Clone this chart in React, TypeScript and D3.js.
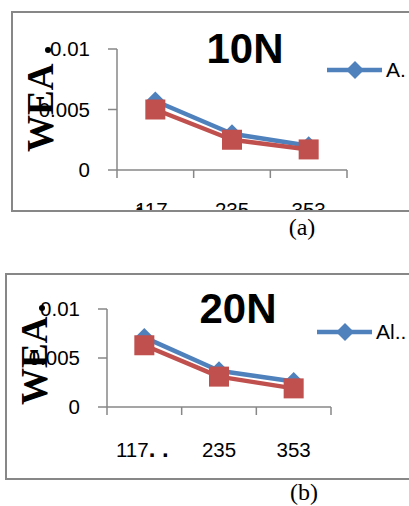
import React from "react";
import * as d3 from "d3";

const categories = ["117", "235", "353"];
const blue10N = [0.0057, 0.003, 0.002];
const red10N = [0.005, 0.0025, 0.0017];
const blue20N = [0.0071, 0.0037, 0.0026];
const red20N = [0.0063, 0.0031, 0.0019];
const yTicks = [0, 0.005, 0.01];
const yTickLabels = ["0", "0.005", "0.01"];
const titles = ["10N", "20N"];
const legendLabels = ["A.", "Al.."];
const captions = ["(a)", "(b)"];
const yTitle = "WEA";

const BLUE = "#4F81BD";
const RED = "#C0504D";
const GRAY = "#878787";

type PanelProps = {
  id: string;
  blue: number[];
  red: number[];
  title: string;
  legend: string;
  caption: string;
  box: { x: number; y: number; bottom: number };
  plot: { left: number; right: number; top: number; bottom: number };
  titleX: number;
  titleY: number;
  legendX: number;
  legendY: number;
  yTitleX: number;
  yTitleY: number;
  dotX: number;
  dotY: number;
  xLabelY: number;
  captionX: number;
  captionY: number;
  variant: "a" | "b";
};

function Panel(p: PanelProps) {
  const x = d3.scaleBand<string>().domain(categories).range([p.plot.left, p.plot.right]);
  const y = d3.scaleLinear().domain([0, 0.01]).range([p.plot.bottom, p.plot.top]);
  const line = d3
    .line<number>()
    .x((_, i) => (x(categories[i]) as number) + x.bandwidth() / 2)
    .y((d) => y(d));
  const diamond = (cx: number, cy: number, r: number) =>
    `M${cx},${cy - r}L${cx + r},${cy}L${cx},${cy + r}L${cx - r},${cy}Z`;
  const boundaries = [...categories.map((c) => x(c) as number), p.plot.right];
  const clipId = `clip-${p.id}`;
  return (
    <g>
      <defs>
        <clipPath id={clipId}>
          <rect x={p.box.x} y={p.box.y} width={409 - p.box.x} height={p.box.bottom - p.box.y} />
        </clipPath>
      </defs>
      <g clipPath={`url(#${clipId})`}>
        {/* y axis */}
        <line x1={p.plot.left} x2={p.plot.left} y1={p.plot.top} y2={p.plot.bottom} stroke={GRAY} strokeWidth={1.5} />
        {yTicks.map((t, i) => (
          <g key={t}>
            <line x1={p.plot.left - 9} x2={p.plot.left} y1={y(t)} y2={y(t)} stroke={GRAY} strokeWidth={1.5} />
            <text
              x={p.plot.left - 27}
              y={y(t)}
              dy="0.35em"
              textAnchor="end"
              fontFamily="Liberation Sans, Arial, sans-serif"
              fontSize={20.5}
              fill="#000"
            >
              {yTickLabels[i]}
            </text>
          </g>
        ))}
        {/* x axis */}
        <line x1={p.plot.left} x2={p.plot.right} y1={p.plot.bottom} y2={p.plot.bottom} stroke={GRAY} strokeWidth={1.5} />
        {boundaries.map((b, i) => (
          <line key={i} x1={b} x2={b} y1={p.plot.bottom} y2={p.plot.bottom + 8} stroke={GRAY} strokeWidth={1.5} />
        ))}
        {categories.map((c, i) => (
          <text
            key={c}
            x={(x(c) as number) + x.bandwidth() / 2 + (p.variant === "b" && i === 0 ? -2 : 0)}
            y={p.xLabelY}
            textAnchor="middle"
            fontFamily="Liberation Sans, Arial, sans-serif"
            fontSize={20.5}
            fill="#000"
          >
            {p.variant === "a" && i === 0 ? (
              <>
                <tspan fontWeight="bold" dx={-4}>•</tspan>
                <tspan dx={-8}>{c}</tspan>
              </>
            ) : p.variant === "b" && i === 0 ? (
              <>
                {c}
                <tspan fontWeight="bold" fontSize={24}>. .</tspan>
              </>
            ) : (
              c
            )}
          </text>
        ))}
        {/* y title */}
        <text
          transform={`translate(${p.yTitleX},${p.yTitleY}) rotate(-90)`}
          textAnchor="start"
          fontFamily="Liberation Serif, Times New Roman, serif"
          fontWeight="bold"
          fontSize={37}
          fill="#000"
        >
          {yTitle}
        </text>
        <circle cx={p.dotX} cy={p.dotY} r={3} fill="#000" />
        {/* series */}
        <path d={line(p.blue) || ""} fill="none" stroke={BLUE} strokeWidth={4.5} strokeLinejoin="round" />
        {p.blue.map((v, i) => (
          <path key={i} d={diamond((x(categories[i]) as number) + x.bandwidth() / 2, y(v), 9.5)} fill={BLUE} />
        ))}
        <path d={line(p.red) || ""} fill="none" stroke={RED} strokeWidth={4.5} strokeLinejoin="round" />
        {p.red.map((v, i) => (
          <rect
            key={i}
            x={(x(categories[i]) as number) + x.bandwidth() / 2 - 10}
            y={y(v) - 10}
            width={20}
            height={20}
            fill={RED}
          />
        ))}
        {/* title */}
        <text
          x={p.titleX}
          y={p.titleY}
          textAnchor="middle"
          fontFamily="Liberation Sans, Arial, sans-serif"
          fontWeight="bold"
          fontSize={42}
          fill="#000"
        >
          {p.title}
        </text>
        {/* legend */}
        <line x1={p.legendX} x2={p.legendX + 55} y1={p.legendY} y2={p.legendY} stroke={BLUE} strokeWidth={4.5} />
        <path d={diamond(p.legendX + 28, p.legendY, 9)} fill={BLUE} />
        <text
          x={p.legendX + 59}
          y={p.legendY}
          dy="0.35em"
          fontFamily="Liberation Sans, Arial, sans-serif"
          fontSize={21}
          fill="#000"
        >
          {p.legend}
        </text>
      </g>
      {/* chart border */}
      <path
        d={`M409,${p.box.y}H${p.box.x}V${p.box.bottom}H409`}
        fill="none"
        stroke={GRAY}
        strokeWidth={2}
      />
      <text
        x={p.captionX}
        y={p.captionY}
        textAnchor="middle"
        fontFamily="Liberation Serif, Times New Roman, serif"
        fontSize={24}
        fill="#000"
      >
        {p.caption}
      </text>
    </g>
  );
}

export default function App() {
  return (
    <svg
      width={409}
      height={506}
      style={{ position: "absolute", left: 0, top: 0, background: "#fff" }}
    >
      <rect width={409} height={506} fill="#fff" />
      <Panel
        id="a"
        blue={blue10N}
        red={red10N}
        title={titles[0]}
        legend={legendLabels[0]}
        caption={captions[0]}
        box={{ x: 12, y: 12, bottom: 211 }}
        plot={{ left: 117, right: 347, top: 49, bottom: 170 }}
        titleX={245}
        titleY={63}
        legendX={327}
        legendY={70}
        yTitleX={53}
        yTitleY={152}
        dotX={48}
        dotY={50}
        xLabelY={216.5}
        captionX={302}
        captionY={235}
        variant="a"
      />
      <Panel
        id="b"
        blue={blue20N}
        red={red20N}
        title={titles[1]}
        legend={legendLabels[1]}
        caption={captions[1]}
        box={{ x: 6, y: 274, bottom: 479 }}
        plot={{ left: 107, right: 331, top: 309, bottom: 407 }}
        titleX={238}
        titleY={323}
        legendX={317}
        legendY={332}
        yTitleX={47}
        yTitleY={405}
        dotX={42}
        dotY={308}
        xLabelY={457}
        captionX={304}
        captionY={500}
        variant="b"
      />
    </svg>
  );
}
